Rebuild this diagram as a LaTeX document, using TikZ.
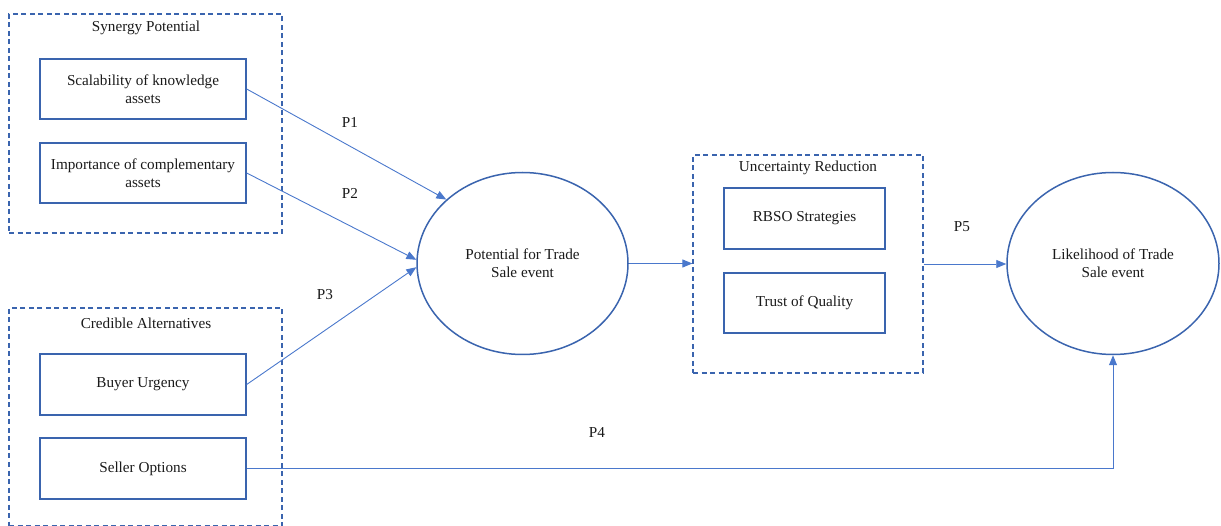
\documentclass[tikz,border=0pt]{standalone}
\usepackage{fontspec}
\setmainfont{Liberation Serif}
\usetikzlibrary{arrows.meta,shapes.geometric}
\definecolor{boxblue}{HTML}{3A64AE}
\definecolor{linkblue}{HTML}{4A78CC}
\definecolor{txt}{HTML}{1A1A1A}
\tikzset{
  every node/.style={font=\fontsize{15.2}{18.3}\selectfont, text=txt},
  groupbox/.style={draw=boxblue, line width=1.2pt, dash pattern=on 5pt off 3.5pt, rectangle, inner sep=0pt},
  itembox/.style={draw=boxblue, line width=1.4pt, rectangle, align=center, inner sep=0pt, minimum width=206pt},
  bubble/.style={draw=boxblue, line width=1.5pt, ellipse, align=center, inner sep=0pt},
  link/.style={draw=linkblue, line width=0.9pt, -{Triangle[length=10pt,width=8pt]}},
  grouptitle/.style={inner sep=0pt, anchor=center},
}
\begin{document}
\begin{tikzpicture}[x=1pt,y=-1pt]
\useasboundingbox (0,0) rectangle (1221,526);
% group boxes
\node[groupbox, minimum width=273pt, minimum height=219pt] (syn) at (145.5,123.5) {};
\node[grouptitle] (syntitle) at (146,28) {Synergy Potential};
\node[groupbox, minimum width=273pt, minimum height=218pt] (cred) at (145.5,417) {};
\node[grouptitle] (credtitle) at (146,323) {Credible Alternatives};
\node[groupbox, minimum width=230pt, minimum height=218pt] (unc) at (808,264) {};
\node[grouptitle] (unctitle) at (808,168) {Uncertainty Reduction};
% items
\node[itembox, minimum height=60pt] (b1) at (143,89) {Scalability of knowledge\\assets};
\node[itembox, minimum height=60pt] (b2) at (143,173) {Importance of complementary\\assets};
\node[itembox, minimum height=61pt] (b3) at (143,384.5) {Buyer Urgency};
\node[itembox, minimum height=61pt] (b4) at (143,468.5) {Seller Options};
\node[itembox, minimum width=161pt, minimum height=61pt] (b5) at (804.5,218.5) {RBSO Strategies};
\node[itembox, minimum width=161pt, minimum height=60pt] (b6) at (804.5,303) {Trust of Quality};
% ellipses
\node[bubble, minimum width=211pt, minimum height=182pt] (e1) at (522.5,263.5) {Potential for Trade\\Sale event};
\node[bubble, minimum width=212pt, minimum height=182pt] (e2) at (1113,263.5) {Likelihood of Trade\\Sale event};
% connectors
\draw[link] (b1.east) -- (e1.140);
\draw[link] (b2.east) -- (e1.178.5);
\draw[link] (b3.east) -- (e1.182);
\draw[link] (e1.east) -- (e1.east -| unc.west);
\draw[link] (unc.east) -- (unc.east -| e2.west);
\draw[link] (b4.east) -- (b4.east -| e2.south) -- (e2.south);
% labels
\node (p1) at (350,122) {P1};
\node (p2) at (350,193) {P2};
\node (p3) at (325,295) {P3};
\node (p4) at (597,432) {P4};
\node (p5) at (962,227) {P5};
\end{tikzpicture}
\end{document}
